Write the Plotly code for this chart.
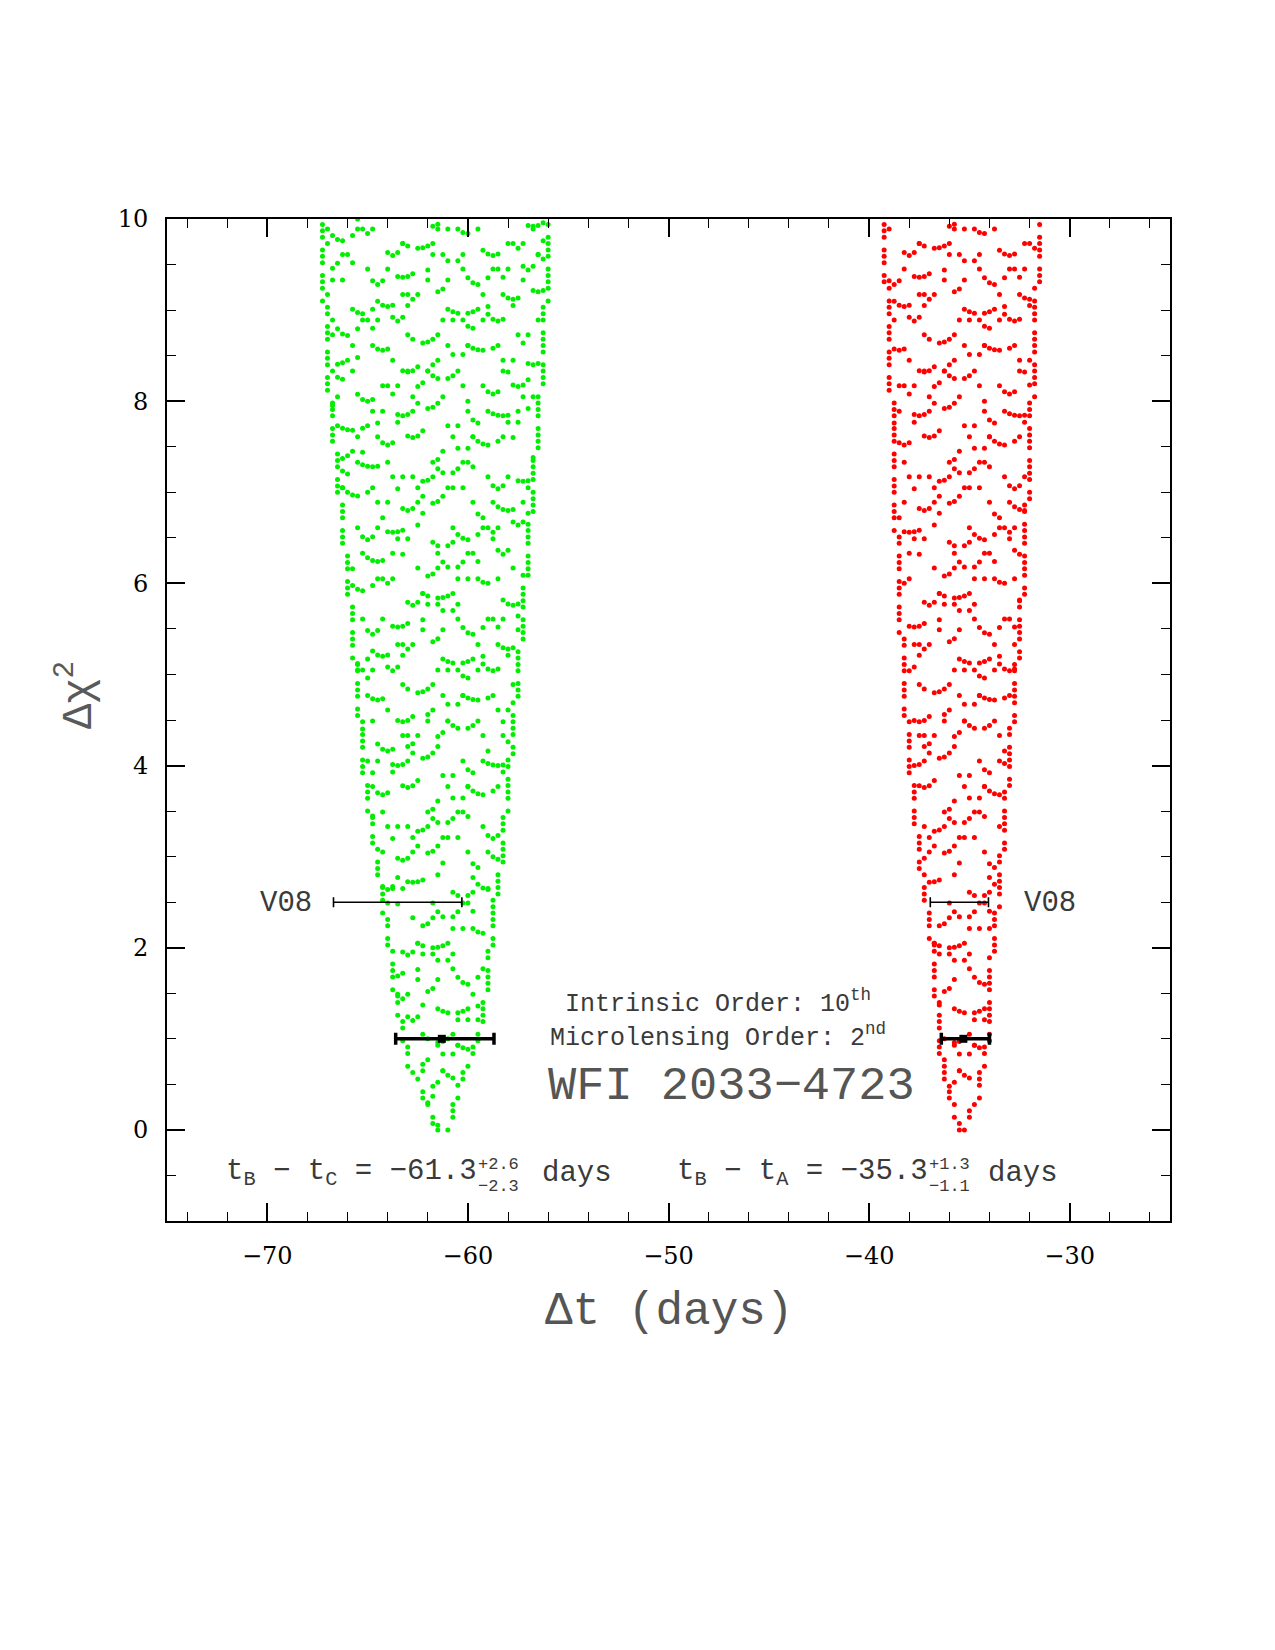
import numpy as np
import plotly.graph_objects as go

# ---------------- data ----------------
X_RANGE = [-75, -25]
Y_RANGE = [-1, 10]

# envelope of the green cloud (t_B - t_C): chi2 level -> left / right delay edge
green_chi = [0.0, 0.33, 0.69, 1.0, 1.43, 2.0, 3.0, 4.0, 6.0, 8.0, 9.1, 9.75, 10.0]
green_left = [-61.7, -62.3, -63.0, -63.3, -63.7, -64.0, -64.7, -65.3, -66.1, -67.0, -67.25, -67.3, -67.5]
green_right = [-60.9, -60.5, -60.0, -59.4, -59.05, -58.75, -58.2, -57.8, -57.0, -56.3, -56.0, -55.9, -55.75]

# envelope of the red cloud (t_B - t_A)
red_chi = [0.0, 0.36, 0.69, 1.0, 1.54, 2.0, 2.49, 4.0, 6.0, 8.0, 9.0, 9.3, 10.0]
red_left = [-35.55, -36.07, -36.47, -36.6, -36.8, -36.96, -37.3, -38.1, -38.65, -39.0, -39.1, -39.26, -39.3]
red_right = [-35.2, -34.47, -34.22, -33.97, -33.87, -33.72, -33.47, -32.9, -32.2, -31.75, -31.75, -31.5, -31.45]

# delay measurements (this work) at delta chi2 = 1
this_center = [-61.3, -35.3]
this_plus = [2.6, 1.3]
this_minus = [2.3, 1.1]
this_level = [1.0, 1.0]

# Vuissoz et al. 2008 (V08) at delta chi2 = 2.5
v08_center = [-62.6, -35.5]
v08_plus = [2.3, 1.45]
v08_minus = [4.1, 1.45]
v08_level = [2.5, 2.5]

GREEN = "rgb(0,238,0)"
RED = "rgb(255,0,0)"
STEP = 0.25  # grid spacing of the delay columns


def cloud(chi, left, right):
    ts, cs = [], []
    cmin, cmax = chi[0], 10.0
    # dotted columns along the envelope edges
    k = 0
    for c in np.arange(cmin, cmax + 1e-9, 0.07):
        k += 1
        l = np.interp(c, chi, left)
        r = np.interp(c, chi, right)
        lc = np.ceil(l / STEP) * STEP
        rc = np.floor(r / STEP) * STEP
        if k % 4 != 0:
            ts.append(lc); cs.append(c)
        if rc > lc and k % 5 != 2:
            ts.append(rc); cs.append(c)
    # interior: rows of small, uneven parabolic arcs
    tmid = 0.5 * (left[0] + right[0])
    base = np.round(tmid / STEP) * STEP
    rs = 0.32
    nrows = int((cmax - cmin) / rs) + 2
    for row in range(-1, nrows):
        c0 = cmin + row * rs
        shift = ((row * 3) % 5) * STEP
        for i in range(-16, 17):
            tc = base + i * 1.25 + shift
            hw = 1 + ((i + 2 * row) % 3)
            depth = 0.05 + 0.04 * ((i * 2 + row) % 4)
            voff = 0.08 * ((i * 5 + row * 3) % 4)
            for m in range(-hw, hw + 1):
                if (i * 3 + row * 5 + m * 2) % 5 == 0:
                    continue
                t = tc + m * STEP
                c = c0 + voff + depth * (m / hw) ** 2
                if c > cmax or c < cmin + 0.01:
                    continue
                l = np.interp(c, chi, left)
                r = np.interp(c, chi, right)
                if l + 0.2 < t < r - 0.2:
                    ts.append(t); cs.append(c)
    return ts, cs


gt, gc = cloud(green_chi, green_left, green_right)
rt, rc = cloud(red_chi, red_left, red_right)

fig = go.Figure()
fig.add_trace(go.Scatter(x=gt, y=gc, mode="markers",
                         marker=dict(color=GREEN, size=5, line=dict(width=0)),
                         showlegend=False, hoverinfo="skip"))
fig.add_trace(go.Scatter(x=rt, y=rc, mode="markers",
                         marker=dict(color=RED, size=5, line=dict(width=0)),
                         showlegend=False, hoverinfo="skip"))

# V08 bars (thin)
fig.add_trace(go.Scatter(x=v08_center, y=v08_level, mode="markers",
                         marker=dict(size=1, color="rgba(0,0,0,0)"),
                         error_x=dict(type="data", array=v08_plus, arrayminus=v08_minus,
                                      color="black", thickness=1.6, width=5),
                         showlegend=False, hoverinfo="skip"))
# this work bars (thick)
fig.add_trace(go.Scatter(x=this_center, y=this_level, mode="markers",
                         marker=dict(size=8, color="black", symbol="square"),
                         error_x=dict(type="data", array=this_plus, arrayminus=this_minus,
                                      color="black", thickness=3.5, width=6),
                         showlegend=False, hoverinfo="skip"))

# ---------------- layout / annotations ----------------
L, R, T, B = 167, 1170, 219, 1221


def px2x(px):
    return X_RANGE[0] + (px - L) / (R - L) * (X_RANGE[1] - X_RANGE[0])


def py2y(py):
    return Y_RANGE[1] - (py - T) / (B - T) * (Y_RANGE[1] - Y_RANGE[0])


MONO = "Liberation Mono"
TXT = "#3a3a3a"
anns = []


def ann(text, px, py, size, xanchor="center", color=TXT, angle=0, font=MONO, paper=False):
    if paper:
        x, y, xr, yr = (px - L) / (R - L), (B - py) / (B - T), "paper", "paper"
    else:
        x, y, xr, yr = px2x(px), py2y(py), "x", "y"
    anns.append(dict(text=text, x=x, y=y, xref=xr, yref=yr,
                     showarrow=False, xanchor=xanchor, yanchor="middle",
                     textangle=angle, font=dict(family=font, size=size, color=color)))


ann("V08", 314, 903, 29, xanchor="right")
ann("V08", 1022, 903, 29, xanchor="left")
ann("Intrinsic Order: 10<sup>th</sup>", 718, 1002, 25)
ann("Microlensing Order: 2<sup>nd</sup>", 718, 1036, 25)
ann("WFI 2033\u22124723", 731, 1086, 47, color="#555555")

ann("t<sub>B</sub> \u2212 t<sub>C</sub> = \u221261.3", 479, 1173, 29, xanchor="right")
ann("+2.6", 476, 1164, 17, xanchor="left")
ann("\u22122.3", 476, 1186, 17, xanchor="left")
ann("days", 540, 1173, 29, xanchor="left")

ann("t<sub>B</sub> \u2212 t<sub>A</sub> = \u221235.3", 930, 1173, 29, xanchor="right")
ann("+1.3", 927, 1164, 17, xanchor="left")
ann("\u22121.1", 927, 1186, 17, xanchor="left")
ann("days", 986, 1173, 29, xanchor="left")

# axis titles
ann("\u0394t (days)", 669, 1312, 46, color="#555555", paper=True)
ann("\u0394\u03c7<sup>2</sup>", 76, 695, 42, color="#5a5a5a", angle=-90, paper=True)

axis_common = dict(showgrid=False, zeroline=False, showline=True, linecolor="black",
                   linewidth=2, mirror="ticks", ticks="inside", tickcolor="black",
                   tickwidth=1.6, ticklen=18,
                   tickfont=dict(family="DejaVu Serif", size=24, color="black"))

fig.update_layout(
    width=1275, height=1650, autosize=False,
    margin=dict(l=L, r=1275 - R, t=T, b=1650 - B),
    paper_bgcolor="white", plot_bgcolor="white",
    xaxis=dict(range=X_RANGE, dtick=10, tick0=0, ticklabelstandoff=12,
               minor=dict(dtick=2, ticks="inside", ticklen=9, tickcolor="black", tickwidth=1.4),
               **axis_common),
    yaxis=dict(range=Y_RANGE, dtick=2, tick0=0, ticklabelstandoff=12,
               minor=dict(dtick=0.5, ticks="inside", ticklen=9, tickcolor="black", tickwidth=1.4),
               **axis_common),
    annotations=anns,
)

fig.write_html("out.html")
